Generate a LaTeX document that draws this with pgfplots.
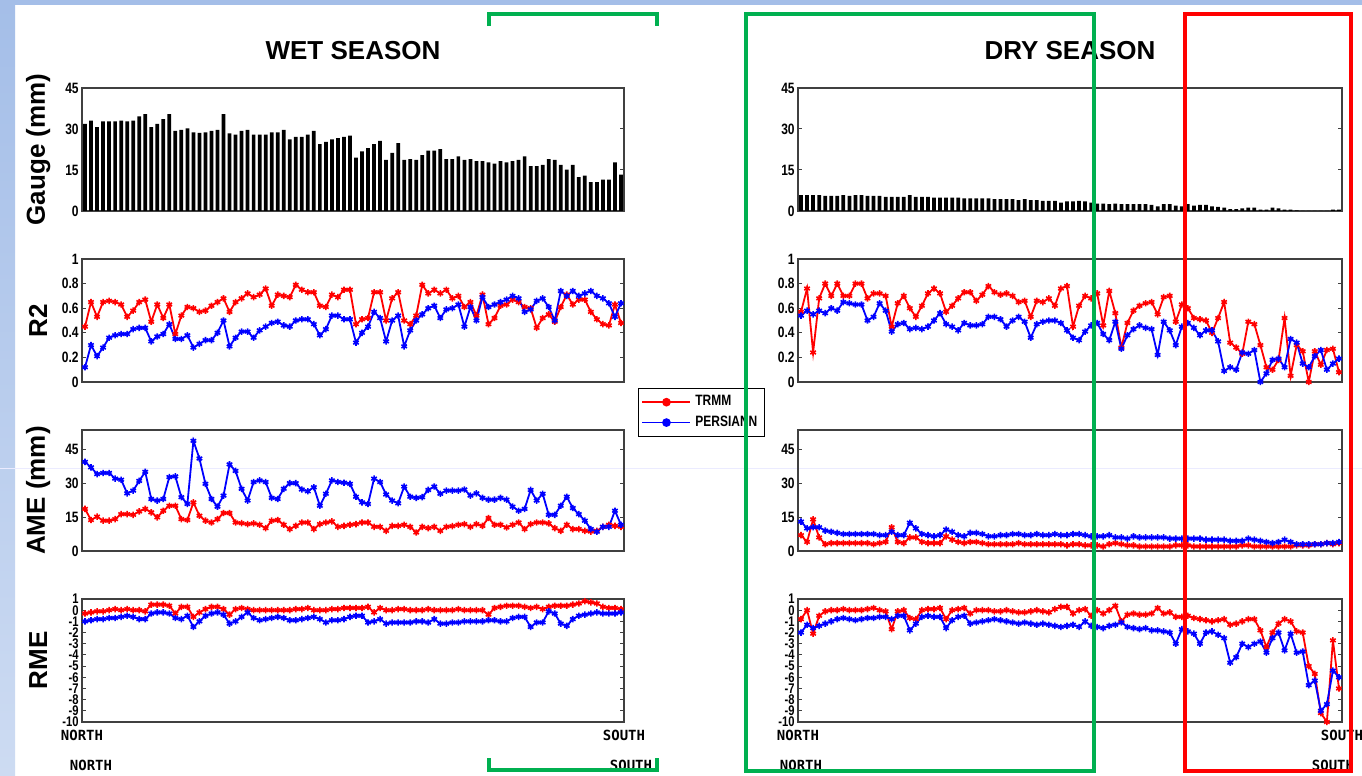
\documentclass[border=0pt]{standalone}
\usepackage{pgfplots}
\pgfplotsset{compat=1.18}
\usepackage{pgfplotstable}
\usepackage{fontspec}
\setmainfont{Liberation Sans}
\newfontfamily\narrow{Liberation Sans}[FakeStretch=0.8]
\newfontfamily\pix{DejaVu Sans Mono}
\definecolor{tr}{RGB}{255,0,0}
\definecolor{pe}{RGB}{0,0,255}
\definecolor{gbox}{RGB}{0,176,80}
\definecolor{bgblue}{RGB}{164,190,232}

% gauge wet / dry
\pgfplotstableread[row sep=\\]{y\\31.9\\33.1\\30.7\\32.8\\32.8\\32.8\\33.1\\32.8\\33.1\\34.6\\35.4\\30.7\\31.9\\33.6\\35.4\\29.3\\29.7\\30.2\\28.8\\28.6\\28.8\\29.3\\29.7\\35.4\\28.4\\27.9\\29.3\\29.7\\27.9\\27.9\\27.9\\28.8\\28.8\\29.7\\26.2\\27.1\\27.1\\27.9\\29.3\\24.5\\25.3\\26.2\\26.7\\27.1\\27.6\\19.5\\21.8\\23.0\\24.5\\25.7\\18.7\\21.3\\24.8\\18.7\\19.0\\18.7\\20.4\\22.1\\22.1\\22.6\\19.0\\19.0\\20.0\\18.7\\19.0\\18.2\\18.2\\17.8\\17.3\\18.2\\17.8\\18.2\\18.7\\20.0\\16.4\\16.4\\16.9\\19.0\\18.7\\16.9\\15.1\\16.9\\12.4\\12.9\\10.6\\10.6\\11.5\\11.5\\17.8\\13.3\\}\gw
\pgfplotstableread[row sep=\\]{y\\5.8\\5.8\\5.8\\5.8\\5.5\\5.5\\5.5\\5.8\\5.5\\5.8\\5.8\\5.5\\5.5\\5.5\\5.2\\5.2\\5.2\\5.2\\5.8\\5.2\\5.2\\5.2\\4.9\\4.9\\4.9\\4.9\\4.9\\4.6\\4.6\\4.6\\4.6\\4.6\\4.3\\4.3\\4.3\\4.3\\4.0\\4.3\\4.0\\4.0\\3.7\\3.7\\3.7\\3.1\\3.5\\3.5\\3.7\\3.5\\3.1\\2.7\\2.7\\2.5\\2.7\\2.5\\2.5\\2.5\\2.5\\2.5\\2.2\\1.7\\2.5\\2.5\\2.0\\1.7\\2.5\\2.0\\2.2\\2.2\\1.7\\1.5\\1.2\\0.7\\0.7\\1.0\\1.2\\1.2\\0.5\\0.5\\1.2\\1.0\\0.5\\0.5\\0.2\\0\\0\\0\\0\\0\\0.5\\0.5\\}\gd
% R2
\pgfplotstableread[row sep=\\]{y\\0.45\\0.65\\0.53\\0.65\\0.66\\0.65\\0.63\\0.53\\0.58\\0.65\\0.67\\0.49\\0.63\\0.52\\0.63\\0.39\\0.54\\0.61\\0.60\\0.57\\0.58\\0.62\\0.65\\0.68\\0.57\\0.65\\0.68\\0.72\\0.69\\0.71\\0.76\\0.62\\0.71\\0.70\\0.69\\0.79\\0.75\\0.73\\0.73\\0.62\\0.61\\0.71\\0.69\\0.75\\0.75\\0.47\\0.51\\0.52\\0.73\\0.73\\0.50\\0.68\\0.73\\0.50\\0.47\\0.54\\0.79\\0.72\\0.75\\0.72\\0.75\\0.68\\0.70\\0.61\\0.65\\0.54\\0.71\\0.47\\0.52\\0.62\\0.63\\0.67\\0.65\\0.61\\0.60\\0.44\\0.52\\0.55\\0.49\\0.61\\0.71\\0.63\\0.67\\0.67\\0.57\\0.51\\0.47\\0.46\\0.63\\0.48\\}\rtw
\pgfplotstableread[row sep=\\]{y\\0.12\\0.30\\0.21\\0.28\\0.36\\0.38\\0.39\\0.39\\0.43\\0.44\\0.44\\0.33\\0.37\\0.39\\0.47\\0.35\\0.35\\0.38\\0.28\\0.31\\0.34\\0.34\\0.40\\0.50\\0.29\\0.36\\0.41\\0.41\\0.36\\0.42\\0.45\\0.48\\0.49\\0.46\\0.45\\0.50\\0.51\\0.51\\0.47\\0.38\\0.43\\0.54\\0.54\\0.51\\0.51\\0.32\\0.40\\0.45\\0.57\\0.52\\0.33\\0.50\\0.54\\0.29\\0.42\\0.50\\0.55\\0.60\\0.62\\0.52\\0.59\\0.60\\0.63\\0.45\\0.61\\0.50\\0.69\\0.61\\0.63\\0.65\\0.67\\0.70\\0.68\\0.57\\0.59\\0.66\\0.68\\0.61\\0.50\\0.74\\0.70\\0.74\\0.70\\0.72\\0.74\\0.70\\0.68\\0.64\\0.53\\0.64\\}\rpw
\pgfplotstableread[row sep=\\]{y\\0.57\\0.76\\0.24\\0.68\\0.80\\0.70\\0.80\\0.70\\0.70\\0.80\\0.80\\0.68\\0.72\\0.72\\0.70\\0.45\\0.64\\0.70\\0.60\\0.53\\0.62\\0.72\\0.76\\0.72\\0.57\\0.62\\0.68\\0.73\\0.73\\0.66\\0.71\\0.78\\0.73\\0.71\\0.72\\0.70\\0.65\\0.66\\0.53\\0.66\\0.65\\0.68\\0.62\\0.76\\0.78\\0.45\\0.62\\0.70\\0.68\\0.72\\0.46\\0.74\\0.56\\0.28\\0.48\\0.58\\0.62\\0.64\\0.65\\0.55\\0.69\\0.70\\0.49\\0.63\\0.60\\0.52\\0.51\\0.50\\0.40\\0.52\\0.65\\0.32\\0.28\\0.23\\0.49\\0.47\\0.30\\0.12\\0.10\\0.18\\0.52\\0.05\\0.30\\0.25\\0.00\\0.25\\0.14\\0.26\\0.27\\0.08\\}\rtd
\pgfplotstableread[row sep=\\]{y\\0.54\\0.58\\0.55\\0.58\\0.56\\0.60\\0.58\\0.65\\0.64\\0.63\\0.63\\0.50\\0.53\\0.64\\0.58\\0.41\\0.47\\0.48\\0.43\\0.44\\0.43\\0.45\\0.50\\0.56\\0.47\\0.45\\0.42\\0.48\\0.46\\0.46\\0.47\\0.53\\0.53\\0.51\\0.45\\0.50\\0.53\\0.49\\0.36\\0.47\\0.49\\0.50\\0.50\\0.48\\0.42\\0.36\\0.34\\0.41\\0.46\\0.48\\0.39\\0.34\\0.49\\0.27\\0.38\\0.43\\0.46\\0.44\\0.43\\0.22\\0.49\\0.42\\0.30\\0.45\\0.48\\0.44\\0.38\\0.42\\0.42\\0.33\\0.09\\0.12\\0.10\\0.24\\0.23\\0.26\\0.00\\0.07\\0.18\\0.19\\0.12\\0.35\\0.32\\0.15\\0.12\\0.21\\0.26\\0.10\\0.15\\0.19\\}\rpd
% AME
\pgfplotstableread[row sep=\\]{y\\18.6\\13.7\\15.2\\13.4\\13.4\\14.1\\16.3\\16.3\\16.0\\17.5\\18.6\\17.1\\14.9\\17.8\\20.0\\20.0\\14.1\\13.7\\21.5\\15.6\\13.4\\12.6\\14.1\\16.8\\16.8\\12.6\\12.3\\11.9\\12.2\\11.6\\10.1\\13.4\\13.7\\11.6\\9.7\\11.1\\12.6\\12.6\\9.7\\11.9\\12.6\\13.1\\10.7\\11.1\\11.6\\11.9\\12.6\\12.6\\10.7\\10.7\\8.9\\11.1\\11.1\\11.6\\10.7\\8.2\\10.7\\10.1\\10.7\\8.9\\10.7\\11.0\\11.6\\11.9\\10.7\\11.9\\11.1\\14.6\\11.6\\11.6\\10.4\\11.6\\12.6\\9.7\\11.9\\12.6\\12.6\\12.2\\10.1\\8.9\\11.6\\9.7\\9.7\\8.9\\8.6\\8.9\\10.7\\11.6\\11.1\\10.7\\}\atw
\pgfplotstableread[row sep=\\]{y\\39.4\\37.0\\34.0\\34.5\\34.5\\32.0\\31.5\\25.5\\26.7\\31.0\\35.0\\23.0\\22.3\\23.0\\32.7\\33.0\\23.8\\20.8\\48.7\\40.9\\29.7\\23.0\\19.6\\24.5\\38.3\\35.4\\27.5\\22.3\\30.5\\31.2\\30.5\\23.5\\23.0\\27.5\\30.0\\30.0\\27.2\\26.4\\28.2\\20.0\\25.3\\31.2\\30.5\\30.2\\29.7\\24.0\\21.5\\20.8\\32.0\\30.5\\25.0\\22.3\\21.1\\28.5\\24.0\\23.5\\23.8\\27.0\\28.5\\25.3\\26.7\\26.7\\26.7\\27.2\\24.5\\25.5\\23.5\\22.7\\22.7\\23.5\\22.7\\19.6\\17.8\\18.6\\27.0\\22.3\\25.3\\16.0\\16.0\\20.0\\24.0\\19.0\\16.3\\13.4\\9.7\\8.5\\10.7\\10.7\\17.8\\11.6\\}\apw
\pgfplotstableread[row sep=\\]{y\\7\\4\\14\\6\\3\\3.5\\3.5\\3.5\\3.5\\3.5\\3.5\\3.5\\3\\3.5\\4\\10.5\\4\\3.5\\6\\6\\4\\3.5\\3.5\\3.5\\6.5\\5\\4\\3.5\\4\\4\\3.5\\3\\3\\3\\3\\3\\3.5\\3\\3\\3\\3\\3\\3\\3\\2.5\\3\\3\\2.5\\2.5\\2.5\\2\\3\\3.5\\3\\2.5\\2.5\\2\\2\\2\\2\\2\\2\\2.5\\2.5\\2.5\\2\\2\\2\\2\\2\\2\\2\\2\\2.5\\2.5\\2\\2\\2\\2\\2\\2\\2\\2.5\\2.5\\2.5\\3\\3\\3.5\\3\\3.5\\}\atd
\pgfplotstableread[row sep=\\]{y\\13\\10\\10.5\\10.5\\9\\8.5\\8\\7.5\\7.5\\7.5\\7.5\\7.5\\7.5\\7\\7\\8.5\\7\\7\\12.5\\10\\7.5\\7\\6.5\\7\\9.5\\8.5\\7\\6.5\\8\\8\\7.5\\6.5\\6.5\\7\\7\\7.5\\7.5\\7\\7\\7.5\\7\\7\\7.5\\7\\7\\7.5\\7.5\\7\\6.5\\6.5\\6.5\\7\\6\\6\\5.5\\6.5\\6\\6\\6\\6\\6\\5.5\\5.5\\5.5\\5.5\\5.5\\5.5\\5\\5\\5\\5\\4.5\\4.5\\4.5\\5.5\\5\\4.5\\4\\3.5\\4\\5\\4\\3\\3\\3\\3\\3\\3.5\\3.5\\4\\}\apd
% RME
\pgfplotstableread[row sep=\\]{y\\-0.3\\-0.2\\-0.1\\-0.1\\0.0\\0.1\\0.0\\0.1\\0.0\\0.0\\-0.1\\0.5\\0.5\\0.5\\0.4\\-0.3\\0.3\\0.3\\-0.6\\-0.2\\0.1\\0.3\\0.3\\0.1\\-0.4\\0.1\\0.2\\0.1\\0.0\\0.0\\0.0\\0.0\\0.0\\0.0\\0.0\\0.1\\0.1\\0.2\\0.0\\0.0\\0.0\\0.1\\0.1\\0.2\\0.2\\0.2\\0.2\\0.3\\-0.2\\0.2\\0.0\\0.0\\0.1\\0.1\\0.0\\0.0\\0.0\\0.1\\0.0\\0.0\\0.0\\0.0\\0.1\\0.0\\0.0\\0.0\\0.0\\-0.4\\0.2\\0.3\\0.4\\0.4\\0.4\\0.3\\0.2\\0.3\\0.1\\0.3\\0.4\\0.4\\0.4\\0.5\\0.6\\0.8\\0.7\\0.6\\0.3\\0.2\\0.2\\0.1\\}\mtw
\pgfplotstableread[row sep=\\]{y\\-1.0\\-0.9\\-0.8\\-0.8\\-0.7\\-0.7\\-0.6\\-0.5\\-0.6\\-0.8\\-0.8\\-0.3\\-0.2\\-0.2\\-0.3\\-0.7\\-0.8\\-0.5\\-1.5\\-1.0\\-0.5\\-0.3\\-0.2\\-0.4\\-1.2\\-1.0\\-0.6\\-0.2\\-0.7\\-0.9\\-0.8\\-0.7\\-0.6\\-0.7\\-0.9\\-0.9\\-0.8\\-0.7\\-0.6\\-0.8\\-1.1\\-0.9\\-0.9\\-0.8\\-0.6\\-0.5\\-0.5\\-1.1\\-1.0\\-0.8\\-1.2\\-1.1\\-1.1\\-1.1\\-1.1\\-1.0\\-1.0\\-1.1\\-0.8\\-1.2\\-1.2\\-1.1\\-1.1\\-1.0\\-1.0\\-1.0\\-1.0\\-0.9\\-0.9\\-1.0\\-1.0\\-0.7\\-0.6\\-0.6\\-1.5\\-1.1\\-1.1\\-0.1\\-0.3\\-1.2\\-1.4\\-0.8\\-0.5\\-0.4\\-0.3\\-0.2\\-0.3\\-0.3\\-0.3\\-0.2\\}\mpw
\pgfplotstableread[row sep=\\]{y\\-0.8\\0.0\\-2.1\\-0.5\\-0.1\\0.0\\0.0\\0.1\\0.0\\0.0\\0.0\\0.1\\0.2\\0.0\\-0.1\\-1.7\\-0.1\\0.0\\-0.7\\-0.8\\0.0\\0.1\\0.1\\0.2\\-0.8\\0.0\\0.1\\0.2\\-0.3\\0.0\\0.0\\0.0\\-0.1\\-0.1\\0.0\\-0.1\\-0.2\\-0.2\\-0.1\\0.0\\-0.1\\-0.2\\0.1\\0.3\\0.3\\-0.3\\0.0\\0.1\\-0.5\\0.0\\-0.3\\0.0\\0.4\\-1.0\\-0.4\\-0.3\\-0.4\\-0.4\\-0.3\\0.2\\-0.3\\-0.2\\-0.6\\-0.6\\-0.5\\-0.7\\-0.8\\-0.9\\-1.0\\-0.9\\-0.8\\-1.3\\-1.2\\-1.0\\-0.8\\-0.8\\-1.8\\-3.3\\-2.0\\-1.2\\-0.8\\-1.0\\-1.9\\-2.0\\-5.0\\-5.7\\-9.2\\-10.0\\-2.7\\-7.0\\}\mtd
\pgfplotstableread[row sep=\\]{y\\-2.0\\-1.3\\-1.6\\-1.4\\-1.2\\-1.0\\-0.8\\-0.7\\-0.8\\-0.9\\-0.8\\-0.7\\-0.7\\-0.6\\-0.6\\-0.8\\-0.5\\-0.5\\-1.8\\-1.2\\-0.6\\-0.5\\-0.6\\-0.6\\-1.6\\-0.9\\-0.6\\-0.5\\-1.2\\-1.1\\-1.0\\-0.9\\-0.8\\-0.9\\-1.0\\-1.1\\-1.2\\-1.1\\-1.2\\-1.3\\-1.2\\-1.3\\-1.4\\-1.5\\-1.4\\-1.3\\-1.5\\-1.0\\-1.4\\-1.5\\-1.6\\-1.4\\-1.3\\-1.1\\-1.5\\-1.6\\-1.7\\-1.6\\-1.8\\-1.8\\-1.9\\-2.0\\-3.0\\-1.7\\-1.9\\-2.1\\-3.0\\-2.0\\-1.9\\-2.2\\-2.5\\-4.7\\-4.2\\-3.0\\-3.3\\-3.0\\-2.8\\-3.8\\-2.5\\-2.0\\-3.6\\-2.1\\-3.8\\-3.7\\-6.7\\-6.3\\-9.0\\-8.4\\-5.4\\-6.0\\}\mpd

\pgfplotsset{
  base/.style={scale only axis, height=61.5pt, xmin=0.5, xmax=90.5, xtick=\empty,
    axis line style={black!75, line width=0.7pt},
    major tick length=2pt, tick style={black!75, line width=0.5pt},
    /pgf/number format/assume math mode=true,
    yticklabel style={font=\narrow\bfseries\fontsize{7.5}{8}\selectfont, inner sep=1.5pt},
    ylabel style={font=\bfseries\fontsize{13}{14}\selectfont, at={(axis description cs:-0.081,0.5)}, anchor=center},
    title style={font=\bfseries\fontsize{13}{14}\selectfont, at={(axis description cs:0.5,1.203)}, anchor=center},
  },
  L/.style={base, width=271pt},
  R/.style={base, width=272pt},
  gauge/.style={ymin=0, ymax=45, ytick={0,15,30,45}},
  rtwo/.style={ymin=0, ymax=1, ytick={0,0.2,0.4,0.6,0.8,1}},
  ame/.style={ymin=0, ymax=53.5, ytick={0,15,30,45}, height=60.5pt},
  rme/.style={ymin=-10, ymax=1, ytick={-10,-9,-8,-7,-6,-5,-4,-3,-2,-1,0,1},
    yticklabel style={font=\narrow\bfseries\fontsize{7}{7}\selectfont},
    xtick={0.5,90.5}, xticklabels={NORTH,SOUTH}, xtick style={draw=none},
    xticklabel style={font=\pix\bfseries\fontsize{7}{8}\selectfont, inner sep=2pt, yshift=-2pt}},
  ser/.style={line width=0.9pt, mark=asterisk, mark size=1.6pt, mark options={line width=0.8pt}},
  bars/.style={ybar, bar width=0.62, fill=black, draw=none},
}

\begin{document}
\begin{tikzpicture}
\fill[white] (0,0) rectangle (681pt,-388pt);
\shade[top color=bgblue, bottom color=bgblue!55] (0,0) rectangle (7.5pt,-388pt);
\fill[bgblue] (0,0) rectangle (681pt,-2.5pt);
\draw[blue!8, line width=0.5pt] (0,-234pt) -- (681pt,-234pt);

% ---------- WET SEASON ----------
\begin{axis}[L, gauge, at={(41pt,-44pt)}, anchor=north west, ylabel={Gauge (mm)}, title={WET SEASON}]
\addplot[bars] table[x expr=\coordindex+1, y=y]{\gw};
\end{axis}

\begin{axis}[L, rtwo, at={(41pt,-129.5pt)}, anchor=north west, ylabel={R2},
  legend style={at={(axis description cs:1.026,-0.049)}, anchor=north west,
    font=\narrow\bfseries\fontsize{7.5}{8.5}\selectfont, draw=black, line width=0.5pt,
    inner sep=1.5pt, row sep=-0.5pt, cells={anchor=west}},
  legend image code/.code={\draw[#1, mark=none] (0pt,0pt) -- (24pt,0pt); \fill[#1, mark=none] (12pt,0pt) circle (1.7pt);}]
\addplot[ser, color=tr] table[x expr=\coordindex+1, y=y]{\rtw};
\addlegendentry{TRMM}
\addplot[ser, color=pe] table[x expr=\coordindex+1, y=y]{\rpw};
\addlegendentry{PERSIANN}
\end{axis}

\begin{axis}[L, ame, at={(41pt,-215pt)}, anchor=north west, ylabel={AME (mm)}]
\addplot[ser, color=tr] table[x expr=\coordindex+1, y=y]{\atw};
\addplot[ser, color=pe] table[x expr=\coordindex+1, y=y]{\apw};
\end{axis}

\begin{axis}[L, rme, at={(41pt,-299.5pt)}, anchor=north west, ylabel={RME}]
\addplot[ser, color=tr] table[x expr=\coordindex+1, y=y]{\mtw};
\addplot[ser, color=pe] table[x expr=\coordindex+1, y=y]{\mpw};
\end{axis}

% ---------- DRY SEASON ----------
\begin{axis}[R, gauge, at={(399pt,-44pt)}, anchor=north west, title={DRY SEASON}]
\addplot[bars] table[x expr=\coordindex+1, y=y]{\gd};
\end{axis}

\begin{axis}[R, rtwo, at={(399pt,-129.5pt)}, anchor=north west]
\addplot[ser, color=tr] table[x expr=\coordindex+1, y=y]{\rtd};
\addplot[ser, color=pe] table[x expr=\coordindex+1, y=y]{\rpd};
\end{axis}

\begin{axis}[R, ame, at={(399pt,-215pt)}, anchor=north west]
\addplot[ser, color=tr] table[x expr=\coordindex+1, y=y]{\atd};
\addplot[ser, color=pe] table[x expr=\coordindex+1, y=y]{\apd};
\end{axis}

\begin{axis}[R, rme, at={(399pt,-299.5pt)}, anchor=north west]
\addplot[ser, color=tr] table[x expr=\coordindex+1, y=y]{\mtd};
\addplot[ser, color=pe] table[x expr=\coordindex+1, y=y]{\mpd};
\end{axis}

% stray labels of the slide
\begin{scope}[font=\pix\bfseries\fontsize{7}{8}\selectfont]
\node at (45.5pt,-382.5pt) {NORTH};
\node at (315.5pt,-382.5pt) {SOUTH};
\node at (400.5pt,-382.5pt) {NORTH};
\node at (666.5pt,-382.5pt) {SOUTH};
\end{scope}

% annotation boxes
\draw[gbox, line width=2pt] (244.5pt,-13pt) -- (244.5pt,-7pt) -- (328.5pt,-7pt) -- (328.5pt,-13pt);
\draw[gbox, line width=2pt] (244.5pt,-379pt) -- (244.5pt,-385pt) -- (328.5pt,-385pt) -- (328.5pt,-379pt);
\draw[gbox, line width=2pt] (373pt,-7pt) rectangle (547pt,-385.5pt);
\draw[tr, line width=2pt] (592.5pt,-7pt) rectangle (675.5pt,-385.5pt);

\pgfresetboundingbox
\path[use as bounding box] (0,0) rectangle (681pt,-388pt);
\end{tikzpicture}
\end{document}
